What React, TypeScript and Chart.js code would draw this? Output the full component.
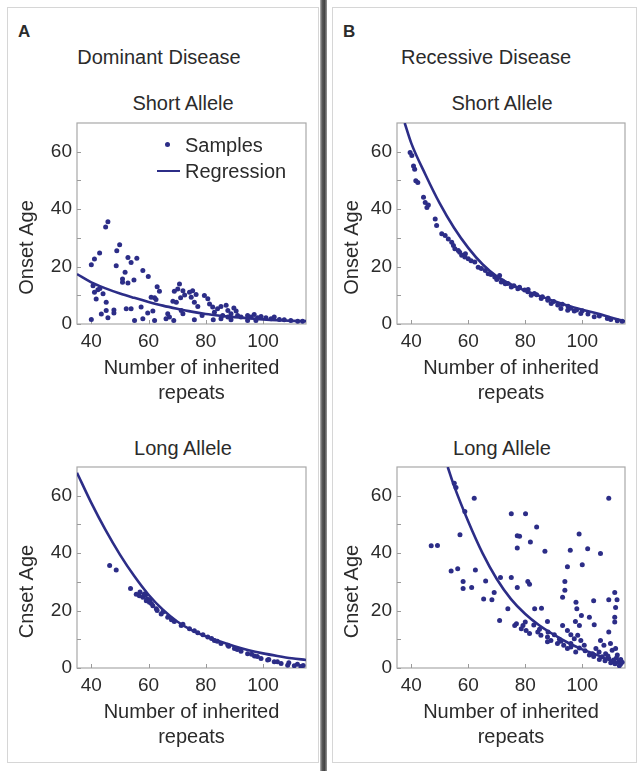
import React, { useEffect, useRef } from 'react';
import { Chart, registerables } from 'chart.js';

Chart.register(...registerables);

const FONT = '"Liberation Sans", Arial, Helvetica, sans-serif';
const NAVY = '#2c2d87';
const TEXT = '#2b2b2b';

// axis settings
const X_MIN = 35;
const X_MAX = 115;
const Y_MIN = 0;
const Y_MAX = 70;
const xTickValues = [40, 60, 80, 100];
const yTickValues = [0, 10, 20, 30, 40, 50, 60];
const yLabelValues = [0, 20, 40, 60];
const xTitleLines = ['Number of inherited', 'repeats'];

// A: Dominant disease, short allele
const domShortX = [45.8, 45.0, 40.0, 41.1, 42.9, 49.9, 48.9, 48.7, 52.8, 55.9, 53.9, 51.8, 58.0, 59.9, 50.9, 50.9, 52.8, 54.9, 40.6, 41.1, 42.3, 44.1, 41.7, 45.2, 43.5, 45.2, 45.8, 47.9, 47.9, 40.0, 52.2, 53.9, 57.4, 55.1, 58.0, 59.7, 62.1, 61.5, 63.0, 63.8, 62.1, 62.6, 66.7, 67.3, 68.8, 69.0, 68.5, 69.7, 70.8, 70.2, 72.0, 72.6, 71.2, 72.0, 71.4, 74.3, 75.4, 74.9, 76.0, 76.6, 77.2, 76.0, 79.5, 80.7, 81.3, 78.7, 82.4, 83.0, 84.1, 85.3, 85.9, 82.6, 87.1, 87.7, 88.8, 89.8, 90.6, 91.1, 88.8, 92.3, 94.6, 95.8, 96.9, 98.1, 99.3, 101.0, 102.8, 103.9, 105.7, 107.4, 109.7, 112.1, 113.8, 94.6, 97.5, 87.7, 85.3, 60.9, 66.1, 43.0];
const domShortY = [35.6, 33.8, 20.6, 22.6, 24.7, 27.6, 25.5, 20.3, 23.2, 22.9, 21.4, 18.0, 18.6, 16.5, 15.7, 14.5, 14.3, 15.3, 13.3, 11.1, 11.9, 10.5, 8.7, 7.6, 3.5, 4.7, 2.2, 4.9, 3.8, 1.6, 5.3, 5.3, 5.9, 1.2, 1.8, 3.8, 1.2, 4.5, 13.0, 11.4, 9.1, 8.5, 3.6, 2.4, 1.2, 11.4, 7.9, 7.6, 13.9, 12.2, 11.6, 10.1, 9.1, 3.6, 4.7, 11.1, 11.6, 9.3, 7.6, 10.3, 6.1, 1.5, 9.9, 8.8, 7.0, 3.0, 5.9, 4.1, 5.3, 6.1, 3.0, 1.5, 6.5, 4.7, 3.6, 5.6, 4.5, 3.0, 1.5, 2.4, 3.0, 2.4, 3.3, 2.2, 2.6, 2.2, 1.8, 2.4, 1.6, 1.5, 1.2, 1.0, 1.0, 1.2, 1.2, 2.4, 1.8, 9.3, 1.8, 12.4];
const domShortRegX = [35, 40, 45, 50, 55, 60, 65, 70, 75, 80, 85, 90, 95, 100, 105, 110, 115];
const domShortRegY = [17.4, 14.5, 12.4, 10.6, 9.1, 7.7, 6.4, 5.3, 4.3, 3.5, 2.9, 2.4, 2.0, 1.6, 1.3, 1.1, 1.0];

// B: Recessive disease, short allele
const recShortX = [39.6, 40.2, 40.8, 41.2, 41.6, 42.3, 44.3, 44.9, 45.5, 46.0, 48.4, 48.9, 50.7, 51.9, 53.0, 54.2, 54.8, 55.3, 56.5, 57.7, 58.8, 60.0, 62.3, 63.5, 64.6, 67.0, 69.3, 71.0, 71.6, 73.9, 75.1, 77.4, 79.8, 80.9, 82.1, 83.2, 85.6, 87.9, 89.1, 91.4, 92.5, 94.9, 97.2, 99.5, 104.2, 108.8, 112.3, 66.0, 68.0, 70.0, 72.0, 73.0, 76.0, 78.0, 81.0, 84.0, 86.0, 88.0, 90.0, 93.0, 95.0, 96.0, 98.0, 100.0, 102.0, 106.0, 110.0, 114.0, 61.0, 59.0, 57.0];
const recShortY = [59.7, 58.7, 55.0, 53.9, 49.9, 49.3, 44.1, 42.3, 40.6, 41.4, 36.6, 34.3, 31.4, 30.8, 29.6, 28.5, 27.3, 26.2, 25.6, 23.9, 23.3, 22.7, 21.6, 19.8, 19.3, 17.5, 16.4, 16.9, 14.6, 14.1, 12.9, 12.3, 11.8, 11.2, 10.0, 10.6, 8.9, 8.3, 7.1, 6.6, 5.4, 4.8, 4.5, 3.7, 2.5, 1.9, 1.1, 18.6, 17.2, 15.5, 15.0, 14.0, 13.3, 12.8, 12.0, 10.2, 9.5, 9.0, 7.8, 6.9, 6.2, 5.5, 4.9, 4.6, 3.5, 2.8, 1.6, 1.0, 22.0, 24.5, 25.0];
const recShortRegX = [37.7, 40, 45, 50, 55, 60, 65, 70, 75, 80, 85, 90, 95, 100, 105, 110, 115];
const recShortRegY = [70, 63, 52, 42, 33.5, 26.5, 20.8, 16.6, 13.8, 11.6, 9.8, 8.0, 6.4, 5.0, 3.7, 2.3, 0.9];

// A: Dominant disease, long allele
const domLongX = [46.4, 48.7, 53.7, 55.7, 56.8, 58.0, 59.2, 60.3, 61.5, 62.7, 64.4, 66.7, 69.0, 71.4, 74.3, 77.2, 80.7, 83.0, 85.3, 87.7, 90.0, 92.3, 94.6, 97.0, 99.3, 101.6, 103.9, 106.3, 108.6, 110.9, 113.2, 57.0, 58.5, 59.5, 60.5, 61.0, 63.0, 65.0, 68.0, 72.0, 76.0, 79.0, 82.0, 84.0, 88.0, 91.0, 96.0, 98.0, 102.0, 105.0, 109.0, 112.0, 114.0, 59.0];
const domLongY = [35.7, 34.1, 27.7, 25.7, 25.2, 24.6, 23.4, 22.9, 21.7, 20.6, 18.8, 17.7, 16.2, 14.8, 13.7, 12.3, 10.8, 9.6, 8.5, 7.9, 6.8, 5.8, 5.0, 4.2, 3.3, 2.8, 2.2, 1.6, 1.0, 0.8, 0.5, 26.5, 25.8, 24.0, 23.8, 22.5, 20.0, 19.5, 16.8, 15.2, 13.0, 11.6, 10.3, 9.3, 7.6, 6.4, 4.8, 4.0, 3.0, 2.2, 1.8, 1.3, 0.9, 25.5];
const domLongRegX = [35, 40, 45, 50, 55, 60, 65, 70, 75, 80, 85, 90, 95, 100, 105, 110, 115];
const domLongRegY = [68, 57.5, 48, 39.5, 32, 25.5, 20.3, 16.2, 13.2, 11, 9.2, 7.6, 6.2, 5.1, 4.2, 3.4, 2.8];

// B: Recessive disease, long allele
const recLongX = [47.0, 49.2, 62.1, 58.8, 55.1, 55.7, 57.1, 54.0, 56.3, 62.5, 58.2, 58.2, 61.2, 66.1, 69.1, 71.3, 65.4, 68.3, 71.0, 73.9, 75.1, 75.1, 77.2, 77.2, 77.2, 78.0, 80.1, 81.8, 80.9, 81.5, 84.0, 86.9, 83.3, 85.7, 87.8, 76.9, 79.2, 78.6, 80.3, 81.5, 84.4, 85.5, 87.8, 89.0, 90.2, 91.3, 92.5, 93.1, 94.8, 96.0, 97.2, 98.4, 99.5, 100.7, 98.9, 95.8, 94.8, 93.9, 93.9, 93.1, 97.8, 98.1, 99.7, 97.6, 99.0, 101.9, 100.0, 104.0, 102.5, 104.2, 106.4, 109.3, 109.3, 111.4, 111.7, 111.4, 111.4, 112.2, 109.3, 109.9, 106.4, 107.6, 104.8, 103.6, 105.9, 108.2, 110.5, 111.7, 112.3, 109.3, 111.0, 112.8, 113.4, 107.0, 102.5, 96.0, 97.7, 93.5, 94.8, 87.8, 76.3, 106.0, 108.0, 110.0, 111.5, 113.0, 112.0, 113.5, 114.0, 109.0, 104.0, 101.0, 99.0, 96.0, 92.0, 88.0, 85.0, 83.0, 80.0];
const recLongY = [42.6, 42.7, 59.1, 54.5, 64.3, 62.9, 46.4, 33.8, 34.6, 34.1, 30.1, 27.7, 28.0, 30.3, 26.3, 31.5, 24.0, 23.8, 16.5, 20.6, 31.5, 53.7, 28.0, 41.8, 46.1, 45.9, 53.7, 43.9, 30.1, 29.2, 49.1, 40.7, 20.6, 20.8, 16.2, 15.4, 14.8, 13.7, 13.1, 12.0, 12.5, 11.4, 10.8, 9.6, 11.6, 8.5, 9.3, 14.8, 13.1, 11.6, 10.2, 11.4, 9.6, 7.9, 46.7, 41.0, 35.3, 30.1, 27.1, 24.6, 22.9, 20.6, 18.3, 16.2, 14.8, 41.5, 36.0, 23.4, 17.7, 15.1, 39.9, 59.1, 23.8, 26.3, 21.1, 17.7, 16.0, 23.8, 12.5, 8.5, 9.6, 7.9, 6.8, 5.0, 5.6, 5.0, 6.2, 6.8, 4.5, 3.3, 2.8, 2.2, 1.3, 3.9, 4.5, 7.3, 5.6, 7.9, 6.8, 9.1, 14.8, 3.0, 2.5, 1.8, 1.5, 0.8, 3.5, 3.0, 2.0, 4.2, 4.0, 6.0, 7.0, 8.5, 10.0, 12.5, 13.5, 15.0, 16.0];
const recLongRegX = [52.8, 55, 60, 65, 70, 75, 80, 85, 90, 95, 100, 105, 110, 113.5];
const recLongRegY = [70, 63.5, 51, 40, 31, 24, 18.8, 14.8, 11.6, 8.8, 6.5, 4.6, 2.7, 1.5];

const framePlugin = {
  id: 'frameAndTicks',
  beforeDatasetsDraw(chart: any) {
    const { ctx, chartArea: a, scales } = chart;
    ctx.save();
    ctx.strokeStyle = '#a8a8a8';
    ctx.lineWidth = 1.2;
    ctx.strokeRect(a.left, a.top, a.right - a.left, a.bottom - a.top);
    ctx.strokeStyle = '#9a9a9a';
    ctx.lineWidth = 1;
    ctx.beginPath();
    xTickValues.forEach((v) => {
      const px = Math.round(scales.x.getPixelForValue(v)) + 0.5;
      ctx.moveTo(px, a.bottom);
      ctx.lineTo(px, a.bottom - 4);
    });
    yTickValues.forEach((v) => {
      const py = Math.round(scales.y.getPixelForValue(v)) + 0.5;
      ctx.moveTo(a.left, py);
      ctx.lineTo(a.left + 4, py);
    });
    ctx.stroke();
    ctx.restore();
  },
};

// y-axis title, drawn beside the y scale (centred a little below the plot's middle, as in the original)
const yTitlePlugin = {
  id: 'yAxisTitle',
  afterDraw(chart: any) {
    const o = chart.options.plugins.yAxisTitle;
    if (!o) return;
    const { ctx, chartArea: a, scales } = chart;
    ctx.save();
    ctx.translate(scales.y.left + 12, (a.top + a.bottom) / 2 + o.dy);
    ctx.rotate(-Math.PI / 2);
    ctx.font = `20px ${FONT}`;
    ctx.fillStyle = TEXT;
    ctx.textAlign = 'center';
    ctx.textBaseline = 'middle';
    ctx.fillText(o.text, 0, 0);
    ctx.restore();
  },
};

type PlotProps = {
  sx: number[];
  sy: number[];
  rx: number[];
  ry: number[];
  yTitle: string;
  left: number;
  top: number;
  width: number;
  height: number;
  yW: number;
  xH: number;
};

function Plot(p: PlotProps) {
  const ref = useRef<HTMLCanvasElement | null>(null);
  useEffect(() => {
    if (!ref.current) return;
    const chart = new Chart(ref.current, {
      type: 'scatter',
      data: {
        datasets: [
          {
            label: 'Samples',
            data: p.sx.map((x, i) => ({ x, y: p.sy[i] })),
            pointRadius: 2.5,
            pointBackgroundColor: NAVY,
            pointBorderWidth: 0,
            showLine: false,
            order: 2,
          } as any,
          {
            label: 'Regression',
            data: p.rx.map((x, i) => ({ x, y: p.ry[i] })),
            showLine: true,
            borderColor: NAVY,
            borderWidth: 2.6,
            pointRadius: 0,
            cubicInterpolationMode: 'monotone',
            fill: false,
            order: 1,
          } as any,
        ],
      },
      options: {
        responsive: false,
        animation: false,
        devicePixelRatio: 1,
        events: [],
        layout: { padding: { top: 2, right: 3, left: 0, bottom: 0 } },
        plugins: {
          legend: { display: false },
          tooltip: { enabled: false },
          title: { display: false },
          yAxisTitle: { text: p.yTitle, dy: 24 },
        },
        scales: {
          x: {
            type: 'linear',
            min: X_MIN,
            max: X_MAX,
            afterBuildTicks: (s: any) => {
              s.ticks = xTickValues.map((v) => ({ value: v }));
            },
            afterFit: (s: any) => {
              s.height = p.xH;
              s.paddingLeft = 0;
              s.paddingRight = 0;
            },
            grid: { display: false, drawTicks: false },
            border: { display: false },
            ticks: {
              padding: 6,
              autoSkip: false,
              maxRotation: 0,
              color: TEXT,
              font: { family: FONT, size: 19, lineHeight: 1.2 },
            },
            title: {
              display: true,
              text: xTitleLines,
              color: TEXT,
              padding: 0,
              font: { family: FONT, size: 20, lineHeight: 1.25 },
            },
          },
          y: {
            type: 'linear',
            min: Y_MIN,
            max: Y_MAX,
            afterBuildTicks: (s: any) => {
              s.ticks = yTickValues.map((v) => ({ value: v }));
            },
            afterFit: (s: any) => {
              s.width = p.yW;
              s.paddingTop = 0;
              s.paddingBottom = 0;
            },
            grid: { display: false, drawTicks: false },
            border: { display: false },
            ticks: {
              padding: 5,
              autoSkip: false,
              color: TEXT,
              font: { family: FONT, size: 19, lineHeight: 1.2 },
              callback: (v: any) => (yLabelValues.includes(Number(v)) ? String(v) : ''),
            },
            title: { display: false },
          },
        },
      } as any,
      plugins: [framePlugin, yTitlePlugin],
    });
    return () => chart.destroy();
  }, []);
  return (
    <canvas
      ref={ref}
      width={p.width}
      height={p.height}
      style={{ position: 'absolute', left: p.left, top: p.top, width: p.width, height: p.height }}
    />
  );
}

const textStyle: React.CSSProperties = {
  position: 'absolute',
  fontFamily: FONT,
  color: TEXT,
  fontSize: 20,
  lineHeight: '24px',
  whiteSpace: 'nowrap',
};

function Centered({ text, cx, cy }: { text: string; cx: number; cy: number }) {
  return (
    <div style={{ ...textStyle, left: cx - 120, width: 240, top: cy - 12, textAlign: 'center' }}>{text}</div>
  );
}

export default function App() {
  return (
    <div
      style={{
        position: 'fixed',
        left: 0,
        top: 0,
        width: 641,
        height: 771,
        background: '#ffffff',
        overflow: 'hidden',
      }}
    >
      {/* panel frames */}
      <div style={{ position: 'absolute', left: 7, top: 7, width: 310, height: 754, border: '1px solid #d6d6d6' }} />
      <div style={{ position: 'absolute', left: 332, top: 7, width: 303, height: 754, border: '1px solid #d6d6d6' }} />
      <div
        style={{
          position: 'absolute',
          left: 320,
          top: 0,
          width: 7,
          height: 771,
          background: 'linear-gradient(to right, #b8b8b8, #5a5a5a 30%, #444 65%, #9a9a9a)',
        }}
      />

      {/* panel labels */}
      <div style={{ ...textStyle, left: 18, top: 22, fontSize: 17, fontWeight: 'bold', lineHeight: '20px' }}>A</div>
      <div style={{ ...textStyle, left: 343, top: 22, fontSize: 17, fontWeight: 'bold', lineHeight: '20px' }}>B</div>

      <Centered text="Dominant Disease" cx={159} cy={57} />
      <Centered text="Recessive Disease" cx={486} cy={57} />
      <Centered text="Short Allele" cx={183} cy={103} />
      <Centered text="Short Allele" cx={502} cy={103} />
      <Centered text="Long Allele" cx={183} cy={448} />
      <Centered text="Long Allele" cx={502} cy={448} />

      <Plot sx={domShortX} sy={domShortY} rx={domShortRegX} ry={domShortRegY} yTitle="Onset Age"
        left={15} top={119} width={295} height={287} yW={62} xH={82} />
      <Plot sx={recShortX} sy={recShortY} rx={recShortRegX} ry={recShortRegY} yTitle="Onset Age"
        left={340} top={119} width={289} height={287} yW={57} xH={82} />
      <Plot sx={domLongX} sy={domLongY} rx={domLongRegX} ry={domLongRegY} yTitle="Cnset Age"
        left={15} top={463} width={295} height={287} yW={62} xH={82} />
      <Plot sx={recLongX} sy={recLongY} rx={recLongRegX} ry={recLongRegY} yTitle="Cnset Age"
        left={340} top={463} width={289} height={287} yW={57} xH={82} />

      {/* legend (top-left plot) */}
      <div style={{ position: 'absolute', left: 164.5, top: 141.5, width: 5, height: 5, borderRadius: '50%', background: NAVY }} />
      <div style={{ ...textStyle, left: 185, top: 133 }}>Samples</div>
      <div style={{ position: 'absolute', left: 157, top: 169.5, width: 23, height: 2.6, background: NAVY }} />
      <div style={{ ...textStyle, left: 185, top: 159 }}>Regression</div>
    </div>
  );
}
